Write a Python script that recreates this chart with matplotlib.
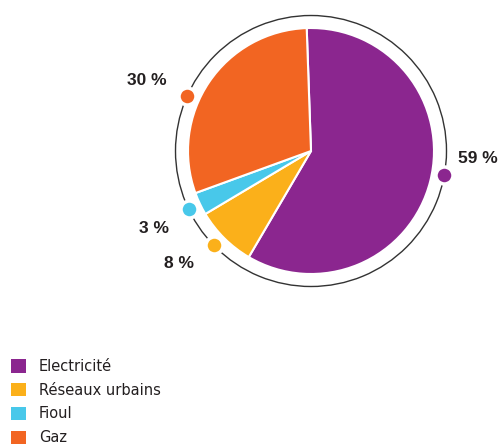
import numpy as np
import matplotlib
matplotlib.use("Agg")
import matplotlib.pyplot as plt
from matplotlib.patches import Patch, Arc

labels = ["Electricité", "Réseaux urbains", "Fioul", "Gaz"]
values = [59, 8, 3, 30]
pct_labels = ["59 %", "8 %", "3 %", "30 %"]
colors = ["#8B268F", "#FBB01A", "#48C8EA", "#F26522"]

W, H = 503, 446
fig = plt.figure(figsize=(W / 100, H / 100), dpi=100)
ax = fig.add_axes([0, 0, 1, 1])

# geometry in pixel units, y going up
cx, cy = 311, H - 151
r_pie, r_ring = 123, 135.5
start = 92

ax.pie(values, colors=colors, startangle=start, counterclock=False,
       center=(cx, cy), radius=r_pie,
       wedgeprops=dict(edgecolor="white", linewidth=1.5))

# thin outer ring
ax.add_patch(Arc((cx, cy), 2 * r_ring, 2 * r_ring, color="#333333", lw=1.0))

# dots at wedge middles (small nudges to mirror the reference layout)
nudge = [4, -1, 0, 10]
text_off = [(34, 16), (-35, -18), (-35, -19), (-40, 15)]
cum = np.cumsum([0] + values)
for i, v in enumerate(values):
    mid = start - 360 * (cum[i] + v / 2) / sum(values) + nudge[i]
    a = np.radians(mid)
    px, py = cx + r_ring * np.cos(a), cy + r_ring * np.sin(a)
    ax.scatter([px], [py], s=150, color=colors[i], edgecolor="white",
               linewidth=2.5, zorder=5)
    dx, dy = text_off[i]
    ax.text(px + dx, py + dy, pct_labels[i], ha="center", va="center",
            fontsize=12.5, fontweight="bold", color="#231F20",
            family="Liberation Sans")

ax.set_xlim(0, W)
ax.set_ylim(0, H)
ax.set_aspect("equal")
ax.axis("off")

handles = [Patch(facecolor=c, edgecolor="none") for c in colors]
leg = ax.legend(handles, labels, loc="upper left",
                bbox_to_anchor=(11 / W, 1 - 359 / H),
                frameon=False, handlelength=1.0,
                handleheight=1.0, handletextpad=0.9, labelspacing=0.6,
                borderaxespad=0, borderpad=0,
                prop=dict(family="DejaVu Sans", size=10.5))
for t in leg.get_texts():
    t.set_color("#231F20")

fig.savefig("out.png", dpi=100)
